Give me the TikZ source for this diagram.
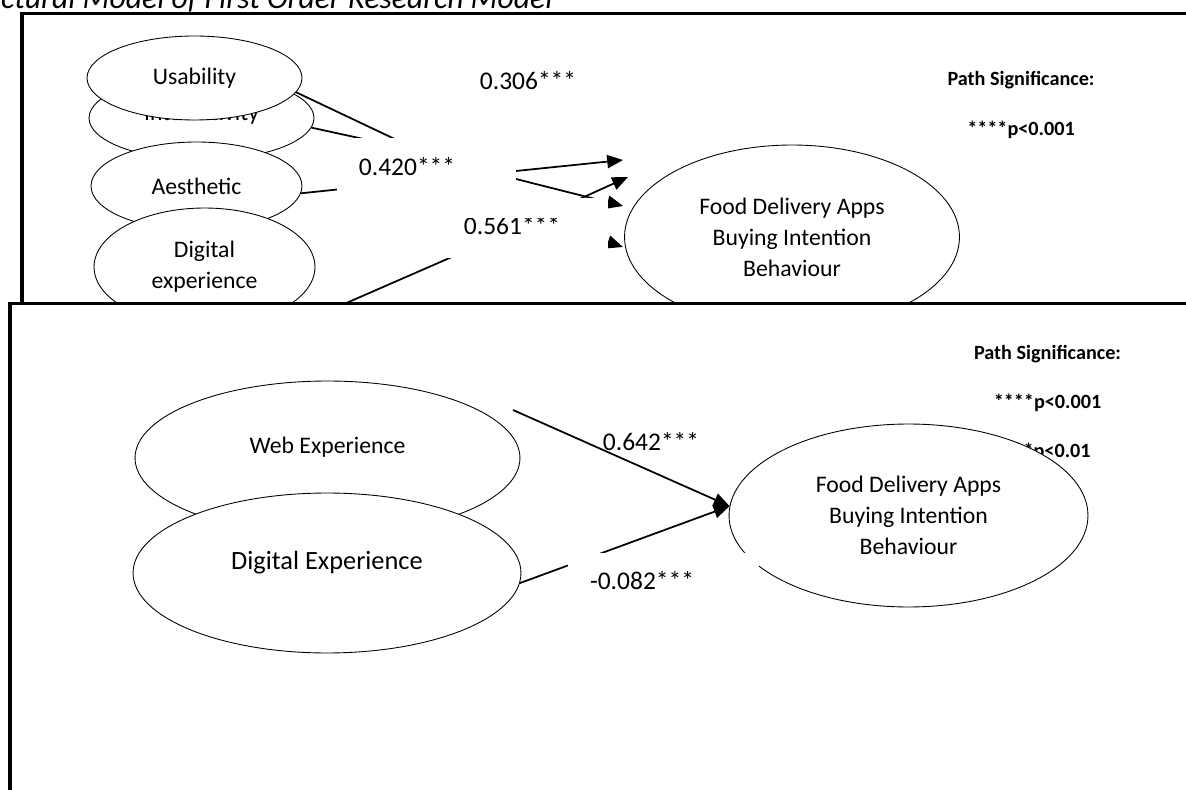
\documentclass[tikz,border=0pt]{standalone}
\usepackage{fontspec}
\setmainfont{Carlito}
\usetikzlibrary{arrows.meta, shapes.geometric}

\begin{document}
\begin{tikzpicture}[
    x=0.02cm, y=-0.02cm,
    frame/.style={draw=black, line width=2.2pt, fill=white},
    construct/.style={
      ellipse,
      draw=black,
      line width=0.5pt,
      fill=white,
      inner sep=0pt,
      align=center,
      font=\fontsize{13.5}{17.6}\selectfont
    },
    lift/.style={text depth=14pt},
    coef/.style={inner sep=0pt, font=\fontsize{14.5}{17}\selectfont},
    mask/.style={fill=white, inner sep=0pt},
    sig/.style={inner sep=0pt, font=\fontsize{11.5}{14}\selectfont\bfseries},
    link/.style={line width=1pt},
    arrow/.style={link, -{Triangle[length=9pt, width=7.5pt]}}
]
\useasboundingbox (0,0) rectangle (1186,790);

% caption, cut by the page
\node[anchor=base east, inner sep=0pt, font=\fontsize{18}{21}\selectfont\itshape] (title) at (553,9)
  {Structural Model of First Order Research Model};

% first panel
\draw[frame] (22,13.5) rectangle (1220,340);
\node[coef] (p306) at (528,81) {0.306***};
\node[sig] (sigA) at (1021,80) {Path Significance:};
\node[sig] (pA) at (1021,130) {****p<0.001};

\node[construct, text depth=7pt, minimum width=4.50cm, minimum height=1.68cm] (inter) at (201.5,118) {Interactivity};
\node[construct, minimum width=4.30cm, minimum height=1.68cm] (us) at (194.5,78) {Usability};
\node[construct, minimum width=4.22cm, minimum height=1.76cm] (aes) at (196.5,186) {Aesthetic};
\node[construct, minimum width=4.42cm, minimum height=2.36cm] (dig) at (204.5,267) {Digital\\experience};
\node[construct, minimum width=6.70cm, minimum height=3.68cm] (fda) at (792,237) {Food Delivery Apps\\Buying Intention\\Behaviour};

\coordinate (uEnd) at (420,151);
\coordinate (iEnd) at (400,147);
\coordinate (aEnd) at (380,185);
\coordinate (dStart) at (320,314.5);
\coordinate (dEnd) at (500,236);
\coordinate (sA) at (470,175.7);
\coordinate (sB) at (540,217);
\coordinate (sC) at (470,167.4);
\coordinate (sD) at (560,226);
\coordinate (tipA) at (623,160);
\coordinate (tipB) at (628,177);
\coordinate (tipC) at (623,206);
\coordinate (tipD) at (623,247);

\draw[link] (us.-8) -- (uEnd);
\draw[link] (inter.-5) -- (iEnd);
\draw[link] (aes.-4) -- (aEnd);
\draw[link] (dStart) -- (dEnd);
\draw[arrow] (sA) -- (tipA);
\draw[arrow] (sB) -- (tipB);
\draw[arrow] (sC) -- (tipC);
\draw[arrow] (sD) -- (tipD);

\node[mask, minimum width=3.58cm, minimum height=1.10cm] (m420) at (426.5,165.5) {};
\node[mask, minimum width=5.42cm, minimum height=1.20cm] (m561) at (472.5,228) {};
\node[coef] (p420) at (407,167) {0.420***};
\begin{scope}
  \clip (337,219) rectangle (608,258);
  \node[coef] (p561) at (512,226) {0.561***};
\end{scope}

% second panel
\draw[frame] (10,303.5) rectangle (1220,820);
\node[sig] (sigB) at (1047.5,354) {Path Significance:};
\node[sig] (pB1) at (1047.5,403) {****p<0.001};
\node[sig] (pB2) at (1047,452) {***p<0.01};

\node[construct, lift, minimum width=7.70cm, minimum height=3.08cm] (web) at (327.5,458) {Web Experience};
\node[construct, lift, minimum width=7.76cm, minimum height=3.20cm, font=\fontsize{15}{18}\selectfont] (dexp) at (327,573) {Digital Experience};
\node[construct, minimum width=7.18cm, minimum height=3.66cm] (fdb) at (908.5,515.5) {Food Delivery Apps\\Buying Intention\\Behaviour};

\coordinate (wStart) at (513,410);
\draw[arrow] (wStart) -- (fdb.177);
\draw[arrow] (dexp.-3) -- (fdb.177);

\node[mask, minimum width=3.82cm, minimum height=1.04cm] (m082) at (663.5,579) {};
\node[coef] (p642) at (651,442) {0.642***};
\node[coef] (p082) at (642,581) {-0.082***};
\end{tikzpicture}
\end{document}
